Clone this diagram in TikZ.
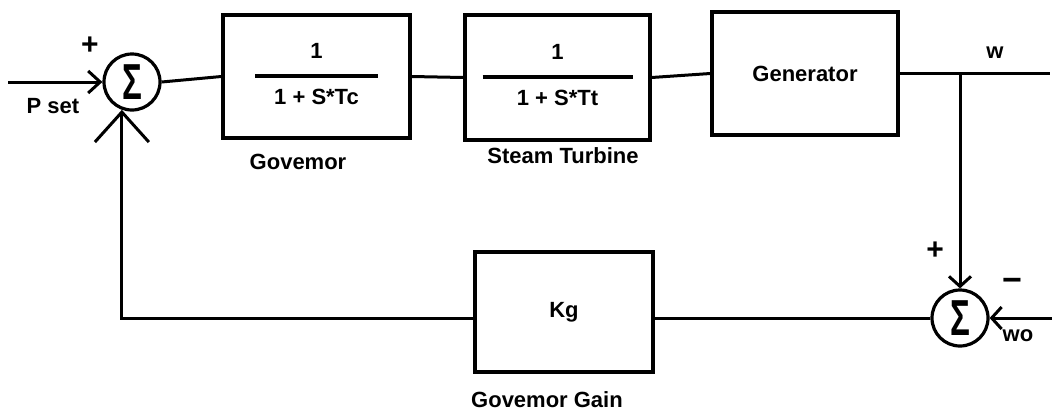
\documentclass[tikz,border=0pt]{standalone}
\usepackage{fontspec}
\setmainfont{Liberation Sans}
\usepackage{graphicx}
\usetikzlibrary{arrows.meta}
\begin{document}
\begin{tikzpicture}[x=1pt,y=-1pt,
  every node/.style={font=\fontsize{22}{25}\selectfont\bfseries},
  block/.style={draw,line width=3.4pt,inner sep=0pt,align=center},
  sumnode/.style={draw,circle,line width=3.2pt,inner sep=0pt,minimum size=56pt,
    font=\fontsize{44}{44}\selectfont\bfseries},
  wire/.style={line width=3pt},
  lbl/.style={inner sep=0pt},
  barbS/.style={-{Straight Barb[length=12pt,width=22pt,line width=3pt]}},
  barbL/.style={-{Straight Barb[length=30pt,width=54pt,line width=3pt]}},
  barbD/.style={-{Straight Barb[length=10pt,width=22pt,line width=3pt]}}
]
\useasboundingbox (0,0) rectangle (1052,413);
\newcommand{\fracbox}[2]{\begin{tabular}{@{}c@{}}1\\[-6pt]\rule{#1}{3.4pt}\\[2pt]#2\end{tabular}}

% summing junctions
\node[sumnode] (s1) at (132,82) {\scalebox{0.75}[1.15]{Σ}};
\node[sumnode] (s2) at (960,318) {\scalebox{0.75}[1.15]{Σ}};

% blocks
\node[block,minimum width=187pt,minimum height=123pt] (gov) at (316.5,76.5) {\fracbox{123pt}{1 + S*Tc}};
\node[block,minimum width=185pt,minimum height=125pt] (st) at (557.5,77.5) {\fracbox{150pt}{1 + S*Tt}};
\node[block,minimum width=186pt,minimum height=123pt] (gen) at (805,73.5) {Generator};
\node[block,minimum width=178pt,minimum height=120pt] (kg) at (564,312) {Kg};

% block labels
\node[lbl] (govl) at (298,162) {Govemor};
\node[lbl] (stl) at (563,156) {Steam Turbine};
\node[lbl] (kgl) at (547,400) {Govemor Gain};

% free ends
\coordinate (pin) at (8,82);
\coordinate (wout) at (1050,73.5);
\coordinate (w0in) at (1052,318);

% connectors
\draw[wire,barbS] (pin) -- (s1.west);
\draw[wire] (s1.east) -- (gov.west);
\draw[wire] (gov.east) -- (st.west);
\draw[wire] (st.east) -- (gen.west);
\draw[wire] (gen.east) -- (wout);
\coordinate (br) at (s2.north |- gen.east);
\draw[wire,barbD] (br) -- (s2.north);
\draw[wire,barbD] (w0in) -- (s2.east);
\draw[wire] (s2.west) -- (s2.west -| kg.east);
\draw[wire,barbL] ([yshift=-6pt]kg.west) -| (s1.-110);

% signs and signal labels
\node[lbl] (p1) at (90,46) {\fontsize{30}{30}\selectfont +};
\node[lbl] (pset) at (53,106) {P set};
\node[lbl] (p2) at (935,251) {\fontsize{30}{30}\selectfont +};
\node[lbl] (m2) at (1012,285) {\fontsize{34}{34}\selectfont −};
\node[lbl] (wl) at (995,53) {w};
\node[lbl] (wol) at (1018,336) {wo};
\end{tikzpicture}
\end{document}
